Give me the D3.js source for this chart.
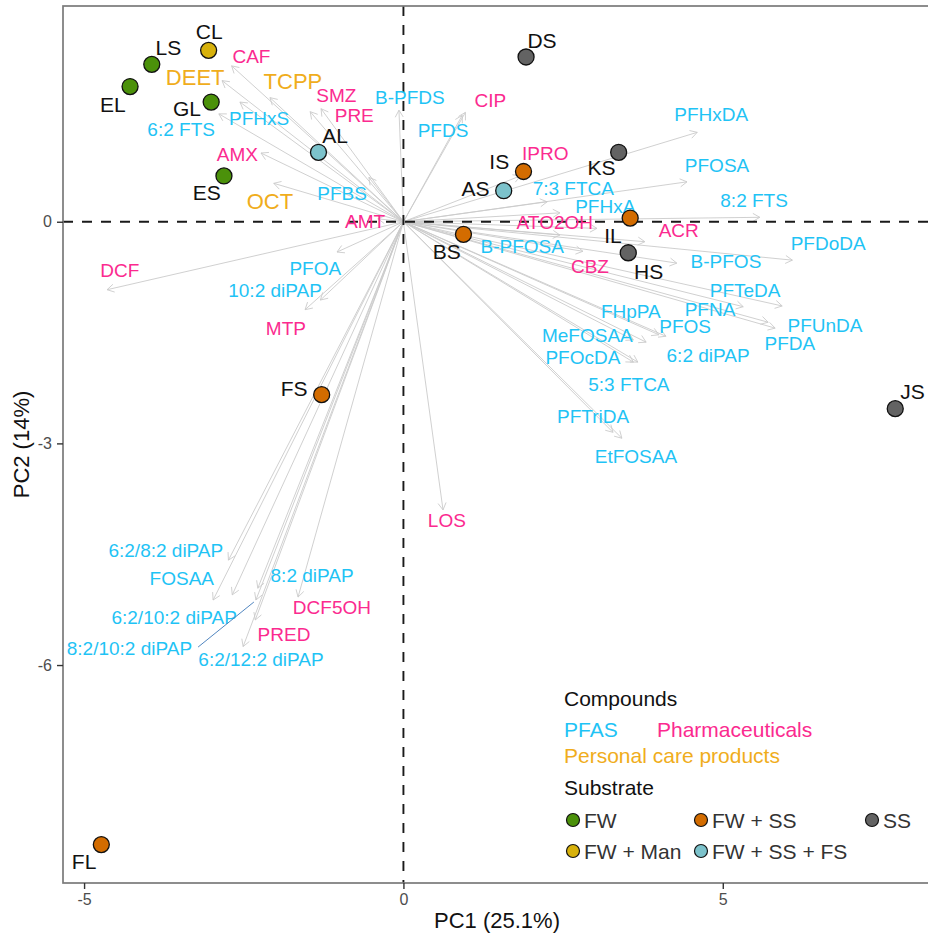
<!DOCTYPE html>
<html>
<head>
<meta charset="utf-8">
<script src="https://cdn.jsdelivr.net/npm/d3@7"></script>
<style>
  html, body { margin: 0; padding: 0; background: #fff; }
  svg { display: block; font-family: "Liberation Sans", Arial, Helvetica, sans-serif; }
</style>
</head>
<body>
<svg id="chart" width="928" height="935"></svg>
<script>
// ---------------- DATA ----------------
const sampleNames = ["CL","LS","EL","GL","AL","ES","BS","DS","IS","AS","KS","IL","HS","JS","FS","FL"];
const sampleGroups = ["FW + Man","FW","FW","FW","FW + SS + FS","FW","FW + SS","SS","FW + SS","FW + SS + FS","SS","FW + SS","SS","SS","FW + SS","FW + SS"];
const samplePC1 = [-3.05,-3.94,-4.28,-3.01,-1.33,-2.81,0.94,1.92,1.88,1.57,3.37,3.55,3.52,7.70,-1.28,-4.73];
const samplePC2 = [2.32,2.13,1.83,1.62,0.94,0.62,-0.17,2.23,0.68,0.42,0.94,0.05,-0.42,-2.53,-2.34,-8.43];
const sampleLabelPC1 = [-3.04,-3.68,-4.55,-3.39,-1.07,-3.08,0.68,2.17,1.50,1.13,3.10,3.28,3.84,7.97,-1.71,-5.00];
const sampleLabelPC2 = [2.57,2.36,1.59,1.53,1.17,0.39,-0.40,2.46,0.82,0.45,0.74,-0.18,-0.67,-2.30,-2.25,-8.66];

const compoundNames = [
  "B-PFDS","PFDS","PFHxS","6:2 FTS","PFBS","PFOA","10:2 diPAP","PFHxDA","PFOSA","7:3 FTCA",
  "8:2 FTS","PFHxA","B-PFOSA","PFDoDA","B-PFOS","PFTeDA","FHpPA","PFNA","PFOS","PFUnDA",
  "PFDA","MeFOSAA","PFOcDA","6:2 diPAP","5:3 FTCA","PFTriDA","EtFOSAA","6:2/8:2 diPAP","FOSAA","8:2 diPAP",
  "6:2/10:2 diPAP","8:2/10:2 diPAP","6:2/12:2 diPAP",
  "CAF","SMZ","PRE","CIP","AMX","AMT","DCF","MTP","IPRO","ATO2OH","ACR","CBZ","LOS","DCF5OH","PRED",
  "DEET","TCPP","OCT"
];
const compoundClass = [
  "PFAS","PFAS","PFAS","PFAS","PFAS","PFAS","PFAS","PFAS","PFAS","PFAS",
  "PFAS","PFAS","PFAS","PFAS","PFAS","PFAS","PFAS","PFAS","PFAS","PFAS",
  "PFAS","PFAS","PFAS","PFAS","PFAS","PFAS","PFAS","PFAS","PFAS","PFAS",
  "PFAS","PFAS","PFAS",
  "Pharmaceuticals","Pharmaceuticals","Pharmaceuticals","Pharmaceuticals","Pharmaceuticals","Pharmaceuticals","Pharmaceuticals","Pharmaceuticals","Pharmaceuticals","Pharmaceuticals","Pharmaceuticals","Pharmaceuticals","Pharmaceuticals","Pharmaceuticals","Pharmaceuticals",
  "Personal care products","Personal care products","Personal care products"
];
const loadingPC1 = [
  -0.07,0.92,-2.56,-2.89,-0.54,-1.04,-1.30,4.60,4.44,2.25,
  5.58,2.45,2.45,6.09,4.28,5.93,4.00,5.32,3.80,5.82,
  5.71,3.60,3.67,4.11,3.60,3.28,3.42,-2.74,-2.98,-2.28,
  -2.68,-2.31,-2.51,
  -2.69,-1.29,-1.46,0.97,-2.23,-0.40,-4.64,-1.54,1.83,3.03,3.78,2.81,0.62,-1.65,-2.32,
  -2.84,-2.09,-2.03
];
const loadingPC2 = [
  1.51,1.44,1.62,1.46,0.60,-0.41,-1.06,1.21,0.54,0.27,
  0.06,0.12,-0.18,-0.52,-0.56,-1.14,-1.53,-1.15,-1.63,-1.44,
  -1.36,-1.60,-1.90,-1.55,-1.90,-2.85,-2.93,-4.58,-5.12,-4.96,
  -5.05,-5.12,-5.75,
  2.11,1.53,1.49,1.48,0.93,0.04,-0.92,-1.19,0.62,-0.09,-0.27,-0.40,-3.90,-5.08,-5.39,
  1.91,1.68,0.52
];
const compoundLabelPC1 = [
  0.10,0.62,-2.26,-3.48,-0.96,-1.38,-2.01,4.82,4.91,2.66,
  5.49,3.16,1.86,6.65,5.05,5.35,3.56,4.80,4.41,6.60,
  6.05,2.88,2.81,4.77,3.53,2.97,3.64,-3.72,-3.47,-1.43,
  -3.59,-4.29,-2.23,
  -2.38,-1.05,-0.77,1.36,-2.60,-0.60,-4.44,-1.84,2.22,2.37,4.31,2.92,0.68,-1.12,-1.87,
  -3.26,-1.73,-2.09
];
const compoundLabelPC2 = [
  1.69,1.24,1.40,1.25,0.39,-0.63,-0.92,1.46,0.77,0.45,
  0.29,0.21,-0.33,-0.29,-0.53,-0.93,-1.21,-1.18,-1.41,-1.40,
  -1.65,-1.53,-1.83,-1.80,-2.20,-2.63,-3.17,-4.44,-4.82,-4.78,
  -5.35,-5.77,-5.92,
  2.24,1.72,1.44,1.65,0.92,0.01,-0.65,-1.44,0.93,0.00,-0.11,-0.60,-4.04,-5.21,-5.58,
  1.96,1.90,0.28
];
// labels that ggrepel connected to their arrow with a segment
const segmentLabels = ["8:2/10:2 diPAP"];

const xTicks = [-5, 0, 5];
const yTicks = [-6, -3, 0];
const xTitle = "PC1 (25.1%)";
const yTitle = "PC2 (14%)";

const classNames = ["PFAS","Pharmaceuticals","Personal care products"];
const classColors = ["#1fc3f5","#fb2a8f","#f0ad1c"];
const groupNames = ["FW","FW + SS","SS","FW + Man","FW + SS + FS"];
const groupColors = ["#4b910a","#d36c00","#636363","#d7b10b","#7cc2cb"];

// ---------------- LAYOUT ----------------
const svg = d3.select("#chart");
const P = {left: 63, right: 931, top: 6, bottom: 883};
const x = d3.scaleLinear().domain([-5.33, 8.26]).range([P.left, P.right]);
const y = d3.scaleLinear().domain([-8.95, 2.92]).range([P.bottom, P.top]);
const classColor = d3.scaleOrdinal().domain(classNames).range(classColors);
const classFont = d3.scaleOrdinal().domain(classNames).range([19, 19, 22]);
const groupColor = d3.scaleOrdinal().domain(groupNames).range(groupColors);

const compounds = compoundNames.map((n, i) => ({
  name: n, cls: compoundClass[i], x: loadingPC1[i], y: loadingPC2[i],
  lx: compoundLabelPC1[i], ly: compoundLabelPC2[i]
}));
const samples = sampleNames.map((n, i) => ({
  name: n, group: sampleGroups[i], x: samplePC1[i], y: samplePC2[i],
  lx: sampleLabelPC1[i], ly: sampleLabelPC2[i]
}));

const plot = svg.append("g");
svg.append("defs").append("clipPath").attr("id", "clip")
  .append("rect").attr("x", P.left).attr("y", P.top)
  .attr("width", P.right - P.left).attr("height", P.bottom - P.top);

const inner = plot.append("g").attr("clip-path", "url(#clip)");

// arrows (loadings)
const ox = x(0), oy = y(0);
const headLen = 8, headAng = Math.PI / 6;
const arrows = inner.append("g")
  .attr("fill", "none").attr("stroke", "#cbcbcb").attr("stroke-width", 0.9);
compounds.forEach(c => {
  const tx = x(c.x), ty = y(c.y);
  arrows.append("line").attr("x1", ox).attr("y1", oy).attr("x2", tx).attr("y2", ty);
  const a = Math.atan2(ty - oy, tx - ox);
  const p1 = [tx - headLen * Math.cos(a - headAng), ty - headLen * Math.sin(a - headAng)];
  const p2 = [tx - headLen * Math.cos(a + headAng), ty - headLen * Math.sin(a + headAng)];
  arrows.append("path").attr("d", `M${p1[0]},${p1[1]}L${tx},${ty}L${p2[0]},${p2[1]}`);
});

// reference dashed lines
inner.append("line").attr("x1", P.left).attr("x2", P.right).attr("y1", y(0)).attr("y2", y(0))
  .attr("stroke", "#1a1a1a").attr("stroke-width", 1.9).attr("stroke-dasharray", "10,9");
inner.append("line").attr("x1", x(0)).attr("x2", x(0)).attr("y1", P.top).attr("y2", P.bottom)
  .attr("stroke", "#1a1a1a").attr("stroke-width", 1.9).attr("stroke-dasharray", "10,9");

// compound labels
const clab = inner.append("g").attr("text-anchor", "middle");
compounds.forEach(c => {
  const t = clab.append("text").attr("x", x(c.lx)).attr("y", y(c.ly)).attr("dy", "0.36em")
    .attr("font-size", classFont(c.cls))
    .attr("fill", classColor(c.cls)).text(c.name);
  if (segmentLabels.includes(c.name)) {
    const w = t.node().getComputedTextLength();
    inner.append("line")
      .attr("x1", x(c.lx) + w / 2 + 6).attr("y1", y(c.ly) - 1)
      .attr("x2", x(c.x) - 2).attr("y2", y(c.y) + 2)
      .attr("stroke", "#5186c0").attr("stroke-width", 1);
  }
});

// sample labels
const slab = inner.append("g").attr("font-size", 21).attr("text-anchor", "middle").attr("fill", "#111");
samples.forEach(s => {
  slab.append("text").attr("x", x(s.lx)).attr("y", y(s.ly)).attr("dy", "0.36em").text(s.name);
});

// sample points
inner.append("g").selectAll("circle").data(samples).join("circle")
  .attr("cx", d => x(d.x)).attr("cy", d => y(d.y)).attr("r", 8)
  .attr("fill", d => groupColor(d.group)).attr("stroke", "#111").attr("stroke-width", 1.3);

// panel border
plot.append("rect").attr("x", P.left).attr("y", P.top)
  .attr("width", P.right - P.left).attr("height", P.bottom - P.top)
  .attr("fill", "none").attr("stroke", "#7a7a7a").attr("stroke-width", 1.7);

// axes
const xAxis = svg.append("g").attr("transform", `translate(0,${P.bottom})`)
  .call(d3.axisBottom(x).tickValues(xTicks).tickSize(6).tickPadding(5).tickFormat(d3.format("d")));
const yAxis = svg.append("g").attr("transform", `translate(${P.left},0)`)
  .call(d3.axisLeft(y).tickValues(yTicks).tickSize(6).tickPadding(5).tickFormat(d3.format("d")));
[xAxis, yAxis].forEach(g => {
  g.select(".domain").remove();
  g.selectAll(".tick line").attr("stroke", "#333").attr("stroke-width", 1.4);
  g.selectAll(".tick text").attr("fill", "#4d4d4d").attr("font-size", 16)
    .attr("font-family", "Liberation Sans, Arial, sans-serif");
});
xAxis.selectAll(".tick text").text(d => d < 0 ? "-" + Math.abs(d) : d);
yAxis.selectAll(".tick text").text(d => d < 0 ? "-" + Math.abs(d) : d);

svg.append("text").attr("x", (P.left + P.right) / 2).attr("y", 928)
  .attr("text-anchor", "middle").attr("font-size", 22).attr("fill", "#111").text(xTitle);
svg.append("text").attr("transform", `translate(29,${(P.top + P.bottom) / 2}) rotate(-90)`)
  .attr("text-anchor", "middle").attr("font-size", 22).attr("fill", "#111").text(yTitle);

// legend
const lg = svg.append("g").attr("font-size", 21);
lg.append("text").attr("x", 564).attr("y", 706).attr("fill", "#111").text("Compounds");
const classPos = [[564, 737], [657, 737], [564, 763]];
classNames.forEach((c, i) => {
  lg.append("text").attr("x", classPos[i][0]).attr("y", classPos[i][1])
    .attr("fill", classColor(c)).text(c);
});
lg.append("text").attr("x", 564).attr("y", 795).attr("fill", "#111").text("Substrate");
const groupPos = [[573, 820], [701, 820], [872, 820], [573, 851], [701, 851]];
groupNames.forEach((g, i) => {
  lg.append("circle").attr("cx", groupPos[i][0]).attr("cy", groupPos[i][1]).attr("r", 6.5)
    .attr("fill", groupColor(g)).attr("stroke", "#111").attr("stroke-width", 1.2);
  lg.append("text").attr("x", groupPos[i][0] + 11).attr("y", groupPos[i][1]).attr("dy", "0.36em")
    .attr("fill", "#333").text(g);
});
</script>
</body>
</html>
